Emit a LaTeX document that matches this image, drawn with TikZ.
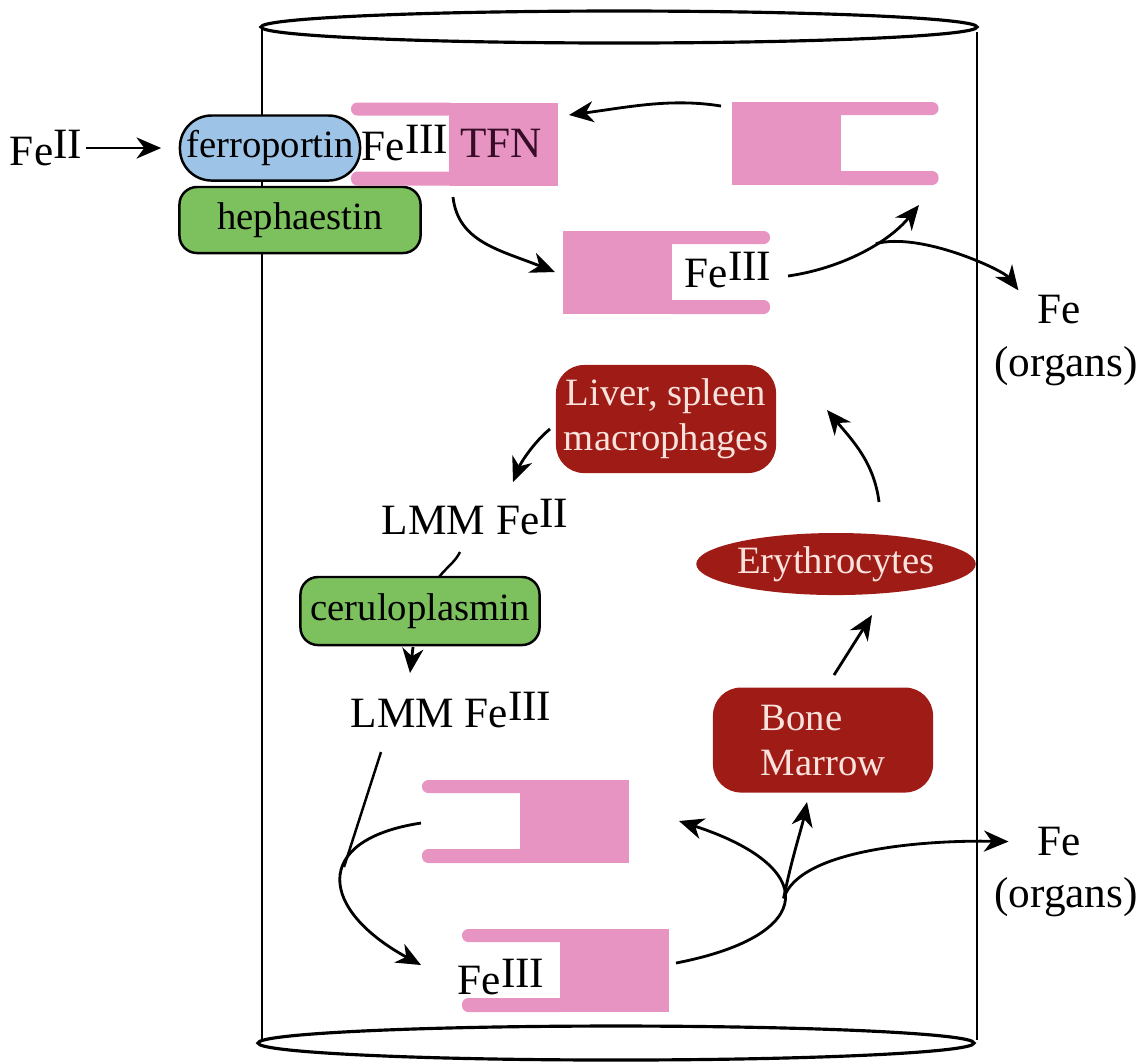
\documentclass[tikz,border=0pt]{standalone}
\usepackage{fontspec}
\setmainfont{Liberation Serif}
\usetikzlibrary{arrows.meta,shapes.geometric}
\definecolor{tfnpink}{RGB}{232,148,194}
\definecolor{fpnblue}{RGB}{157,195,230}
\definecolor{cpgreen}{RGB}{125,193,95}
\definecolor{organred}{RGB}{158,27,22}
\definecolor{organtext}{RGB}{250,226,220}
\definecolor{tfntext}{RGB}{55,12,38}
\def\feox#1{Fe\raisebox{2pt}{#1}}
\tikzset{
  tfn/.pic={
    \fill[tfnpink] (-103.5,-41.5) rectangle (5.5,41.5);
    \fill[tfnpink, rounded corners=1.8pt] (0,-41.5) rectangle (103.5,-28.5);
    \fill[tfnpink, rounded corners=1.8pt] (0,27.5) rectangle (103.5,41.5);
  },
  lbl/.style={font=\fontsize{12.3}{14}\selectfont, inner sep=1pt},
  protein/.style={draw=black, line width=0.7pt, font=\fontsize{11}{13}\selectfont, inner sep=0pt},
  organ/.style={fill=organred, text=organtext, rounded corners=8pt, align=center, font=\fontsize{11}{12.8}\selectfont, inner sep=0pt},
  flow/.style={line width=0.8pt, -{Stealth[length=7pt,width=6pt,inset=2.2pt]}},
}

\begin{document}
\begin{tikzpicture}[x=0.01cm, y=-0.01cm]
			%%%%% START %%%%%
			\useasboundingbox (0,0) rectangle (1143,1062);
			
			\draw[line width=0.9pt] (619,27) ellipse (358 and 16);
			\draw[line width=0.9pt] (616,1043) ellipse (358 and 17);
			\draw[line width=0.8pt] (262,27) -- (262,1040);
			\draw[line width=0.8pt] (977,32) -- (977,1040);
			
			\pic[xscale=-1] at (454.5,144) {tfn};
			\pic at (835,143.5) {tfn};
			\pic at (666.5,272.5) {tfn};
			\pic[xscale=-1] at (525.5,821.5) {tfn};
			\pic[xscale=-1] at (565.5,970.5) {tfn};
			
			\node[lbl] (feii) at (46,148) {\feox{II}};
			\node[protein, fill=cpgreen, rounded corners=5pt, minimum width=2.41cm, minimum height=0.66cm] (hep) at (300,220) {hephaestin};
			\node[protein, fill=fpnblue, rounded corners=9pt, minimum width=1.8cm, minimum height=0.65cm] (fpn) at (270,148) {ferroportin};
			\node[lbl] (fe3a) at (405,143) {\feox{III}};
			\node[lbl, text=tfntext] (tfnlbl) at (501,143) {TFN};
			\node[lbl] (fe3m) at (728,270) {\feox{III}};
			\node[lbl] (fe3d) at (501,977) {\feox{III}};
			
			\node[lbl] (feA) at (1059,310) {Fe};
			\node[lbl] (orgA) at (1066,366) {(organs)};
			\node[lbl] (feB) at (1059,842) {Fe};
			\node[lbl] (orgB) at (1066,897) {(organs)};
			
			\node[organ, minimum width=2.2cm, minimum height=1.08cm] (liv) at (666,419) {Liver, spleen\\macrophages};
			\node[organ, ellipse, minimum width=2.54cm, minimum height=0.62cm] (ery) at (836,564) {Erythrocytes};
			\node[organ, align=left, minimum width=2.2cm, minimum height=1.05cm] (bm) at (823,740) {Bone\\Marrow};
			\node[lbl] (lmm2) at (475,517) {LMM \feox{II}};
			\node[protein, fill=cpgreen, rounded corners=5pt, minimum width=2.39cm, minimum height=0.68cm] (cer) at (420,611) {ceruloplasmin};
			\node[lbl] (lmm3) at (451,710) {LMM \feox{III}};
			
			\coordinate (tB1) at (721,106);
			\coordinate (tA1) at (569,115);
			\coordinate (tA2) at (453,197);
			\coordinate (tM1) at (555,272);
			\coordinate (tM2) at (788,276);
			\coordinate (tB2) at (919,205);
			\coordinate (lv1) at (550,429);
			\coordinate (l2n) at (513,482);
			\coordinate (l2s) at (460,552);
			\coordinate (c1n) at (439,577);
			\coordinate (c1s) at (413,647);
			\coordinate (l3n) at (410,673);
			\coordinate (l3s) at (381,752);
			\coordinate (x1) at (344,867);
			\coordinate (pL) at (421,823);
			\coordinate (pD) at (421,965);
			\coordinate (pD2) at (676,963);
			\coordinate (pM) at (679,821);
			\coordinate (bm1) at (807,802);
			\coordinate (bm2) at (834,675);
			\coordinate (ery1) at (872,615);
			\coordinate (ery2) at (879,502);
			\coordinate (liv1) at (827,410);
			
			\draw[flow, shorten >=5pt] (feii) -- (fpn);
			\draw[flow] (tB1) .. controls +(-50,-8) and +(60,-8) .. (tA1);
			\draw[flow] (tA2) .. controls +(5,45) and +(-55,-22) .. (tM1);
			\draw[flow] (tM2) .. controls +(55,-8) and +(-30,37) .. (tB2) coordinate[pos=0.6] (j1);
			\draw[flow, shorten >=7pt] (j1) .. controls +(45,-12) and +(-30,-40) .. (feA.west);
			
			\draw[flow] (lv1) .. controls +(-15,12) and +(8,-20) .. (l2n);
			\draw[line width=0.7pt] (l2s) .. controls +(-5,10) and +(8,-10) .. (c1n);
			\draw[flow] (c1s) -- (l3n);
			\draw[line width=0.7pt] (l3s) -- (x1);
			\draw[flow] (pL) .. controls +(-111,17) and +(-101,-55) .. (pD);
			\draw[flow] (pD2) .. controls +(144,-28) and +(139,45) .. (pM) coordinate[pos=0.5] (j2);
			\draw[flow] (j2) .. controls +(8,-40) and +(-5,25) .. (bm1);
			\draw[flow, shorten >=7pt] (j2) .. controls +(16,-50) and +(-105,-2) .. (feB.west);
			\draw[flow] (bm2) -- (ery1);
			\draw[flow] (ery2) .. controls +(-5,-40) and +(25,30) .. (liv1);
			
			%%%%% END %%%%%
\end{tikzpicture}
\end{document}
